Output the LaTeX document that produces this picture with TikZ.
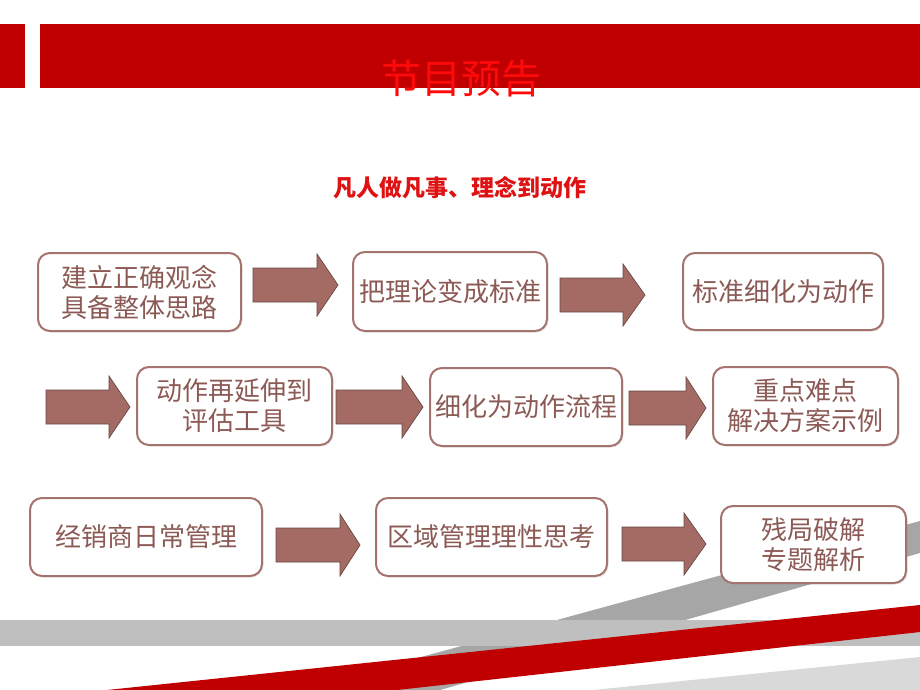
\documentclass[tikz,border=0pt]{standalone}
\usepackage{fontspec}
\newfontfamily\cjk{Noto Sans CJK SC}
\usetikzlibrary{shadows}
\definecolor{bannerred}{HTML}{C00000}
\definecolor{titlered}{HTML}{FF0A0A}
\definecolor{subred}{RGB}{222,18,18}
\definecolor{boxborder}{RGB}{165,115,110}
\definecolor{boxtext}{RGB}{140,90,85}
\definecolor{arrowfill}{RGB}{163,107,100}
\definecolor{arrowdraw}{RGB}{105,72,68}
\definecolor{bandgray}{HTML}{BFBFBF}
\definecolor{darkgray}{HTML}{A6A6A6}
\definecolor{lightgray}{HTML}{D9D9D9}
\tikzset{
  stepbox/.style={draw=boxborder, line width=2pt, fill=white, rounded corners=12pt,
    font=\cjk\fontsize{26}{30}\selectfont, text=boxtext, align=center, inner sep=0pt,
    drop shadow={shadow xshift=1.5pt, shadow yshift=-1.5pt, opacity=0.18}},
  blockarrow/.style={fill=arrowfill, draw=arrowdraw, line width=0.7pt, line join=miter},
}
\newcommand\blockarrow[4]{\draw[blockarrow] (#1,#4-17) -- (#2,#4-17) -- (#2,#4-31) -- (#3,#4) -- (#2,#4+31) -- (#2,#4+17) -- (#1,#4+17) -- cycle;}
\begin{document}
\begin{tikzpicture}[x=1pt,y=-1pt]
\useasboundingbox (0,0) rectangle (920,690);
\fill[white] (0,0) rectangle (920,690);
% top banner
\fill[bannerred] (0,24) rectangle (25,88);
\fill[bannerred] (40,24) rectangle (920,88);
% title
\node[font=\cjk\fontsize{40}{42}\selectfont, text=titlered] (title) at (461,78) {节目预告};
% subtitle
\node[font=\cjk\bfseries\fontsize{23}{25}\selectfont, text=subred] (subtitle) at (460,188) {凡人做凡事、理念到动作};
% bottom stripes
\fill[darkgray] (920,521) -- (300,690) -- (440,690) -- (920,553) -- cycle;
\fill[bandgray] (0,620) rectangle (920,646);
\fill[bannerred] (107,690) -- (920,605) -- (920,632) -- (397,690) -- cycle;
\fill[lightgray] (593,690) -- (920,657) -- (920,690) -- cycle;
% boxes
\node[stepbox, minimum width=203pt, minimum height=78pt] (b1) at (139.5,292) {建立正确观念\\具备整体思路};
\node[stepbox, minimum width=194pt, minimum height=79pt] (b2) at (450,291.5) {把理论变成标准};
\node[stepbox, minimum width=200pt, minimum height=77pt] (b3) at (783,291.5) {标准细化为动作};
\node[stepbox, minimum width=195pt, minimum height=78pt] (b4) at (234.5,406) {动作再延伸到\\评估工具};
\node[stepbox, minimum width=192pt, minimum height=78pt] (b5) at (526,407) {细化为动作流程};
\node[stepbox, minimum width=185pt, minimum height=78pt] (b6) at (805.5,406) {重点难点\\解决方案示例};
\node[stepbox, minimum width=232pt, minimum height=78pt] (b7) at (146,537) {经销商日常管理};
\node[stepbox, minimum width=231pt, minimum height=78pt] (b8) at (491.5,537) {区域管理理性思考};
\node[stepbox, minimum width=185pt, minimum height=77pt] (b9) at (813.5,544.5) {残局破解\\专题解析};
% block arrows
\blockarrow{253}{317}{338}{285}
\blockarrow{560}{623}{645}{295}
\blockarrow{46}{109}{130}{407}
\blockarrow{336}{402}{423}{407}
\blockarrow{629}{686}{706}{408}
\blockarrow{276}{340}{360}{545}
\blockarrow{622}{684}{706}{544}
\end{tikzpicture}
\end{document}
